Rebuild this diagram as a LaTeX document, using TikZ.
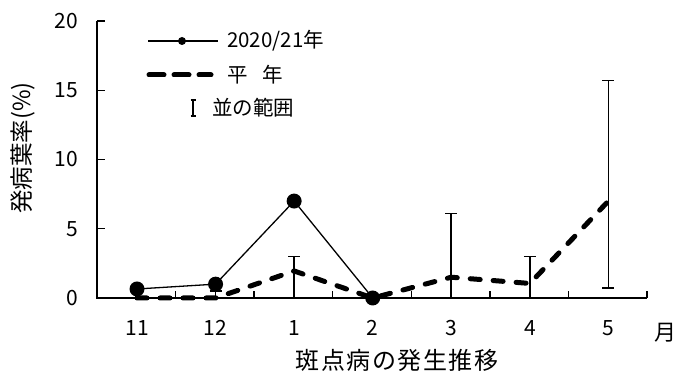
\documentclass[tikz,border=0pt]{standalone}
\usepackage{fontspec}
\setmainfont{Noto Sans CJK JP}
\newcommand\cjkbox[1]{\makebox[25.5pt]{#1}}
\tikzset{
  axisline/.style={line width=1.6pt, black},
  tickline/.style={line width=1.4pt, black},
  ticklab/.style={font=\fontsize{21}{21}\selectfont, inner sep=0pt},
  leglab/.style={font=\fontsize{20.5}{20.5}\selectfont, inner sep=0pt, anchor=west},
  cur/.style={line width=1.3pt, black},
  avg/.style={line width=5pt, black, line cap=round, dash pattern=on 10pt off 13pt},
  avgleg/.style={line width=5pt, black, line cap=round, dash pattern=on 15pt off 10pt},
  ebar/.style={line width=1.8pt, black},
  dot/.style={circle, fill=black, inner sep=0pt, minimum size=15pt},
  smalldot/.style={circle, fill=black, inner sep=0pt, minimum size=8pt}
}
\begin{document}
\begin{tikzpicture}[x=1pt,y=1pt]
\useasboundingbox (0,0) rectangle (675,374);
% axes
\coordinate (O) at (97,76);
\coordinate (Ytop) at (97,353);
\coordinate (Xend) at (647,76);
\draw[axisline] (Ytop) -- (O) -- (Xend);
% y ticks and labels
\foreach \v/\nm in {0/t0,5/t5,10/t10,15/t15,20/t20}{
  \coordinate (\nm) at (97,76+13.85*\v);
  \draw[tickline] (\nm) -- ++(8,0);
  \node[ticklab, anchor=east] (\nm lab) at ([xshift=-19pt]\nm) {\v};
}
% x ticks
\foreach \k in {1,...,7}{
  \coordinate (xb\k) at (97+78.57*\k,76);
  \draw[tickline] (xb\k) -- ++(0,7);
}
% month labels
\foreach \i/\m in {0/11,1/12,2/1,3/2,4/3,5/4,6/5}{
  \node[ticklab] (mon\i) at (137+78.57*\i,46) {\m};
}
\node[font=\fontsize{22}{22}\selectfont, inner sep=0pt] (tsuki) at (665,41) {月};
% axis titles
\node[font=\fontsize{24}{24}\selectfont, inner sep=0pt] (xtitle) at (397,14)
  {\cjkbox{斑}\cjkbox{点}\cjkbox{病}\cjkbox{の}\cjkbox{発}\cjkbox{生}\cjkbox{推}\cjkbox{移}};
\node[font=\fontsize{23.5}{23.5}\selectfont, inner sep=0pt, rotate=90] (ytitle) at (23,226) {発病葉率(\%)};
% data
\begin{scope}[shift={(137pt,76pt)}, x=78.57pt, y=13.85pt]
  \coordinate (a0) at (0,0.65);
  \coordinate (a1) at (1,1.0);
  \coordinate (a2) at (2,7.0);
  \coordinate (a3) at (3,0);
  \coordinate (h0) at (0,0);
  \coordinate (h1) at (1,0);
  \coordinate (h2) at (2,1.95);
  \coordinate (h3) at (3,0);
  \coordinate (h4) at (4,1.5);
  \coordinate (h5) at (5,1.05);
  \coordinate (h6) at (6,7.0);
  \coordinate (e1lo) at (1,0);   \coordinate (e1hi) at (1,0.5);
  \coordinate (e2lo) at (2,0);   \coordinate (e2hi) at (2,3.0);
  \coordinate (e4lo) at (4,0);   \coordinate (e4hi) at (4,6.1);
  \coordinate (e5lo) at (5,0);   \coordinate (e5hi) at (5,3.0);
  \coordinate (e6lo) at (6,0.7); \coordinate (e6hi) at (6,15.7);
\end{scope}
% error bars
\foreach \e in {1,2,4,5,6}{
  \draw[ebar] (e\e lo) -- (e\e hi);
  \draw[ebar] ([xshift=-6pt]e\e hi) -- ([xshift=6pt]e\e hi);
}
\draw[ebar] ([xshift=-6pt]e6lo) -- ([xshift=6pt]e6lo);
% average line
\draw[avg] (h0) -- (h1) -- (h2) -- (h3) -- (h4) -- (h5) -- (h6);
% 2020/21 line
\draw[cur] (a0) -- (a1) -- (a2) -- (a3);
\foreach \i in {0,1,2,3}{ \node[dot] (m\i) at (a\i) {}; }
% legend
\coordinate (l1a) at (148,333);
\coordinate (l1b) at (218,333);
\draw[cur] (l1a) -- (l1b);
\node[smalldot] (l1m) at (182,333) {};
\node[leglab] (l1t) at (227,333) {2020/21年};
\coordinate (l2a) at (149,299);
\coordinate (l2b) at (211,299);
\draw[avgleg] (l2a) -- (l2b);
\node[leglab] (l2t) at (227,299) {平\hspace{15pt}年};
\coordinate (l3a) at (193,258);
\coordinate (l3b) at (193,274);
\draw[line width=1.6pt] (l3a) -- (l3b);
\draw[line width=1.6pt] ([xshift=-2.5pt]l3a) -- ([xshift=2.5pt]l3a);
\draw[line width=1.6pt] ([xshift=-2.5pt]l3b) -- ([xshift=2.5pt]l3b);
\node[leglab] (l3t) at (212,266) {並の範囲};
\end{tikzpicture}
\end{document}
